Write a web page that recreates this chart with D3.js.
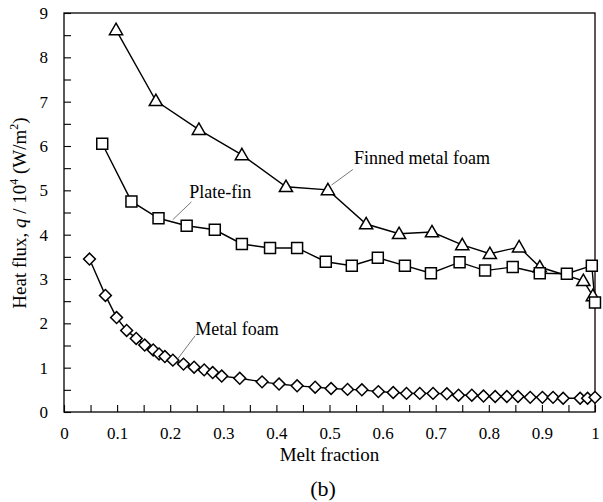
<!DOCTYPE html>
<html>
<head>
<meta charset="utf-8">
<script src="https://cdn.jsdelivr.net/npm/d3@7"></script>
<style>
  body { margin: 0; background: #fff; }
</style>
</head>
<body>
<div id="chart"></div>
<script>
const WIDTH = 603, HEIGHT = 502
const MARGIN = { top: 13, right: 8, bottom: 90, left: 64 }
const SERIF = 'Liberation Serif'

// Finned metal foam (triangles)
const finnedX = [0.098, 0.173, 0.254, 0.335, 0.418, 0.497, 0.569, 0.631, 0.693, 0.750, 0.802, 0.857, 0.896, 0.978, 0.996]
const finnedY = [8.62, 7.02, 6.37, 5.80, 5.08, 5.01, 4.24, 4.02, 4.06, 3.77, 3.57, 3.72, 3.27, 2.96, 2.62]

// Plate-fin (squares)
const plateX = [0.072, 0.127, 0.178, 0.231, 0.284, 0.335, 0.388, 0.439, 0.493, 0.542, 0.591, 0.642, 0.691, 0.745, 0.793, 0.845, 0.896, 0.947, 0.994, 1.0]
const plateY = [6.05, 4.75, 4.37, 4.20, 4.11, 3.79, 3.70, 3.70, 3.39, 3.30, 3.48, 3.30, 3.13, 3.38, 3.19, 3.27, 3.13, 3.12, 3.30, 2.47]

// Metal foam (diamonds)
const foamX = [0.048, 0.078, 0.099, 0.118, 0.136, 0.152, 0.168, 0.179, 0.190, 0.205, 0.225, 0.245, 0.264, 0.280, 0.297,
  0.331, 0.373, 0.405, 0.439, 0.473, 0.503, 0.534, 0.561, 0.592, 0.620, 0.645, 0.670, 0.695, 0.721, 0.743, 0.768,
  0.790, 0.812, 0.834, 0.855, 0.878, 0.901, 0.921, 0.940, 0.972, 0.986, 1.0]
const foamY = [3.45, 2.63, 2.13, 1.84, 1.66, 1.51, 1.40, 1.31, 1.25, 1.17, 1.08, 1.01, 0.95, 0.89, 0.81,
  0.76, 0.68, 0.63, 0.59, 0.56, 0.53, 0.51, 0.50, 0.46, 0.44, 0.42, 0.42, 0.42, 0.41, 0.38, 0.38,
  0.36, 0.35, 0.35, 0.35, 0.33, 0.33, 0.33, 0.31, 0.31, 0.31, 0.33]

const xTicks = [0, 0.1, 0.2, 0.3, 0.4, 0.5, 0.6, 0.7, 0.8, 0.9, 1]
const yTicks = [0, 1, 2, 3, 4, 5, 6, 7, 8, 9]

const W = WIDTH - MARGIN.left - MARGIN.right
const H = HEIGHT - MARGIN.top - MARGIN.bottom

const svg = d3.select('#chart').append('svg')
  .attr('width', WIDTH)
  .attr('height', HEIGHT)

const g = svg.append('g').attr('transform', `translate(${MARGIN.left},${MARGIN.top})`)

const x = d3.scaleLinear().domain([0, 1]).range([0, W])
const y = d3.scaleLinear().domain([0, 9]).range([H, 0])

// ── frame ─────────────────────────────────────────────────────
g.append('rect')
  .attr('width', W).attr('height', H)
  .attr('fill', 'none').attr('stroke', '#000').attr('stroke-width', 1.3)

// ── axes, ticks pointing inward ──────────────────────────────
const xMinor = d3.range(0.05, 1, 0.1)
const yMinor = d3.range(0.5, 9, 1)

const gx = g.append('g').attr('transform', `translate(0,${H})`)
gx.call(d3.axisBottom(x).tickValues(xTicks).tickSizeInner(-7).tickSizeOuter(0).tickPadding(15)
  .tickFormat(d => d === 0 || d === 1 ? d3.format('d')(d) : d3.format('.1f')(d)))
gx.append('g').call(d3.axisBottom(x).tickValues(xMinor).tickSizeInner(-7).tickSizeOuter(0).tickFormat(''))

const gy = g.append('g')
gy.call(d3.axisLeft(y).tickValues(yTicks).tickSizeInner(-7).tickSizeOuter(0).tickPadding(16))
gy.append('g').call(d3.axisLeft(y).tickValues(yMinor).tickSizeInner(-7).tickSizeOuter(0).tickFormat(''))

g.selectAll('.domain').remove()
g.selectAll('.tick line').attr('stroke', '#000').attr('stroke-width', 1.1)
gx.attr('font-family', SERIF).attr('font-size', 17)
gy.attr('font-family', SERIF).attr('font-size', 17)
g.selectAll('.tick text').attr('fill', '#000')

// ── series ────────────────────────────────────────────────────
const series = [
  { name: 'finned', xs: finnedX, ys: finnedY, symbol: d3.symbolTriangle, size: 75, rot: 0, dy: 1 },
  { name: 'plate',  xs: plateX,  ys: plateY,  symbol: d3.symbolSquare,   size: 120, rot: 0, dy: 0 },
  { name: 'foam',   xs: foamX,   ys: foamY,   symbol: d3.symbolSquare,   size: 70, rot: 45, dy: 0 },
]

const line = d3.line().x(d => x(d[0])).y(d => y(d[1]))

series.forEach(s => {
  const pts = s.xs.map((v, i) => [v, s.ys[i]])
  g.append('path').datum(pts)
    .attr('d', line)
    .attr('fill', 'none').attr('stroke', '#000').attr('stroke-width', 1.4)
})

series.forEach(s => {
  const pts = s.xs.map((v, i) => [v, s.ys[i]])
  const sym = d3.symbol().type(s.symbol).size(s.size)
  g.append('g').selectAll('path').data(pts).enter().append('path')
    .attr('transform', d => `translate(${x(d[0])},${y(d[1]) + s.dy}) rotate(${s.rot})`)
    .attr('d', sym)
    .attr('fill', '#fff').attr('stroke', '#000').attr('stroke-width', 1.5)
})

// ── annotations ──────────────────────────────────────────────
const notes = [
  { text: 'Finned metal foam', tx: 0.546, ty: 5.73, lx1: 0.504, ly1: 5.12, lx2: 0.544, ly2: 5.47 },
  { text: 'Plate-fin',         tx: 0.236, ty: 4.96, lx1: 0.205, ly1: 4.34, lx2: 0.240, ly2: 4.74 },
  { text: 'Metal foam',        tx: 0.247, ty: 1.87, lx1: 0.213, ly1: 1.18, lx2: 0.247, ly2: 1.72 },
]
notes.forEach(n => {
  g.append('line')
    .attr('x1', x(n.lx1)).attr('y1', y(n.ly1))
    .attr('x2', x(n.lx2)).attr('y2', y(n.ly2))
    .attr('stroke', '#555').attr('stroke-width', 0.8)
  g.append('text')
    .attr('x', x(n.tx)).attr('y', y(n.ty))
    .attr('dy', '0.35em')
    .attr('font-family', SERIF)
    .attr('font-size', 18)
    .text(n.text)
})

// ── axis titles ──────────────────────────────────────────────
svg.append('text')
  .attr('x', MARGIN.left + W / 2).attr('y', 461)
  .attr('text-anchor', 'middle')
  .attr('font-family', SERIF)
  .attr('font-size', 19)
  .text('Melt fraction')

const yt = svg.append('text')
  .attr('transform', `translate(26,213) rotate(-90)`)
  .attr('text-anchor', 'middle')
  .attr('font-family', SERIF)
  .attr('font-size', 19)
yt.append('tspan').text('Heat flux,  ')
yt.append('tspan').style('font-style', 'italic').text('q')
yt.append('tspan').text(' / 10')
yt.append('tspan').attr('dy', -8).attr('font-size', 12).text('4')
yt.append('tspan').attr('dy', 8).text(' (W/m')
yt.append('tspan').attr('dy', -8).attr('font-size', 12).text('2')
yt.append('tspan').attr('dy', 8).text(')')

svg.append('text')
  .attr('x', 323).attr('y', 496)
  .attr('text-anchor', 'middle')
  .attr('font-family', SERIF)
  .attr('font-size', 22)
  .text('(b)')
</script>
</body>
</html>
